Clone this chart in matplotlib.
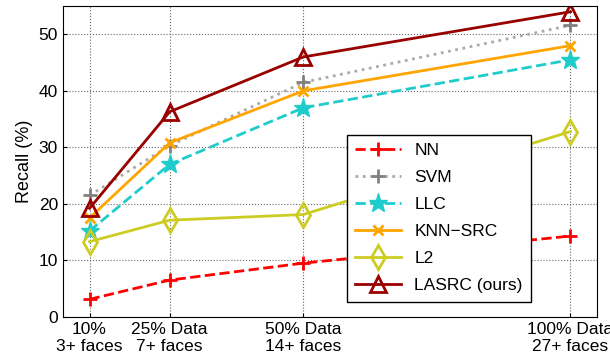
import matplotlib
matplotlib.use("Agg")
import matplotlib.pyplot as plt

plt.rcParams['font.family'] = ['Liberation Sans', 'DejaVu Sans']

# data
data_pct = [10, 25, 50, 100]
tick_labels = ["10%\n3+ faces", "25% Data\n7+ faces", "50% Data\n14+ faces", "100% Data\n27+ faces"]
nn = [3.1, 6.5, 9.5, 14.3]
svm = [21.5, 30.3, 41.5, 51.6]
llc = [15.2, 27.0, 37.0, 45.5]
knn_src = [17.5, 30.8, 40.0, 48.0]
l2 = [13.3, 17.1, 18.1, 32.8]
lasrc = [19.2, 36.3, 46.0, 54.0]

fig, ax = plt.subplots(figsize=(6.1, 3.6), dpi=100)
fig.subplots_adjust(left=0.103, right=0.979, top=0.983, bottom=0.12)

ax.plot(data_pct, nn, '--', color='#ff0000', lw=2, marker='+', ms=10, mew=2, label='NN')
ax.plot(data_pct, svm, ':', color='#aaaaaa', lw=2, marker='+', ms=10, mew=2,
        mec='#808080', label='SVM')
ax.plot(data_pct, llc, '--', color='#1fcccc', lw=2, marker='*', ms=14, mew=1, label='LLC')
ax.plot(data_pct, knn_src, '-', color='#ffa500', lw=2, marker='x', ms=7, mew=2, label='KNN\u2212SRC')
ax.plot(data_pct, l2, '-', color='#cccc22', lw=2, marker='d', ms=12, mew=2, mfc='none', label='L2')
ax.plot(data_pct, lasrc, '-', color='#990000', lw=2, marker='^', ms=11, mew=2, mfc='none',
        label='LASRC (ours)')

ax.set_xlim(5, 105)
ax.set_ylim(0, 55)
ax.set_xticks(data_pct)
ax.set_xticklabels(tick_labels)
ax.set_yticks(range(0, 51, 10))
ax.set_ylabel('Recall (%)', fontsize=13)
ax.tick_params(direction='in', labelsize=12.5, length=3)
ax.grid(True, linestyle=':', color='#666666', linewidth=0.8)

leg = ax.legend(loc='lower left', bbox_to_anchor=(0.515, 0.02), fontsize=12.5,
                frameon=True, fancybox=False, edgecolor='black', framealpha=1,
                handlelength=2.6, borderpad=0.5, labelspacing=0.68)
leg.get_frame().set_linewidth(1)

fig.savefig('out.png', dpi=100)
